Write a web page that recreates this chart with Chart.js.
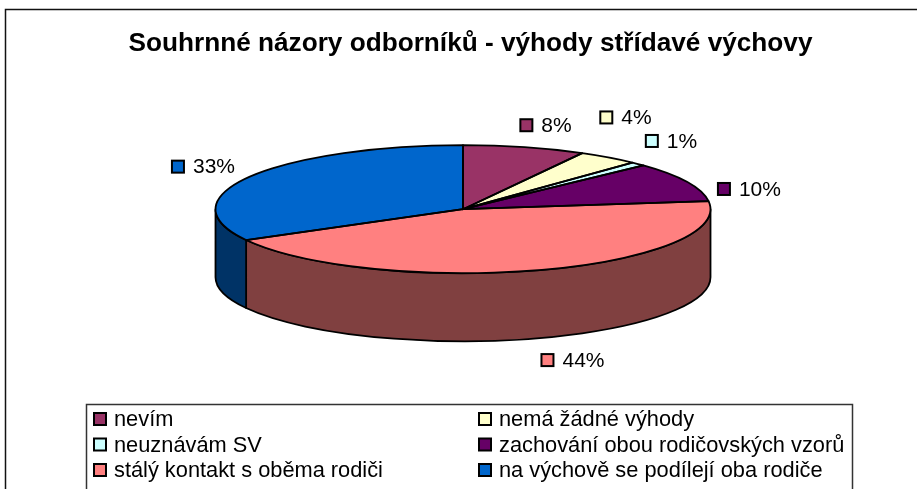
<!DOCTYPE html>
<html><head><meta charset="utf-8">
<style>html,body{margin:0;padding:0;background:#fff}canvas{display:block}</style>
<script src="https://cdn.jsdelivr.net/npm/chart.js@4"></script>
</head><body><canvas id="c" width="917" height="489"></canvas>
<script>
const categories = ["nevím","nemá žádné výhody","neuznávám SV","zachování obou rodičovských vzorů","stálý kontakt s oběma rodiči","na výchově se podílejí oba rodiče"];
const values = [8,4,1,10,44,33];
const topColors = ["#993366","#FFFFCC","#CCFFFF","#660066","#FF8080","#0066CC"];
const sideColors = ["#4D1A33","#808066","#668080","#330033","#804040","#003366"];
const titleText = "Souhrnné názory odborníků - výhody střídavé výchovy";

const FONT = '"Liberation Sans", Arial, sans-serif';
const RX = 247.5, RY = 64, DEPTH = 68;
// label offset from the slice's rim point at its mid-angle
const labelNudge = [[21.5,-22],[17.5,-40],[33.5,-23],[62.5,7],[33.5,90],[-46.5,-10]];

function ry(){return RY/RX;}
const pie3d = {
  id:'pie3d',
  afterLayout(chart){
    // the reference title sits a little right of the pie's centre
    chart.titleBlock.left += 7.5; chart.titleBlock.right += 7.5;
  },
  beforeDraw(chart){
    const c=chart.ctx;
    c.save();
    c.fillStyle='#fff';c.fillRect(0,0,917,489);
    c.strokeStyle='#111';c.lineWidth=1.5;
    c.beginPath();c.moveTo(5.5,489);c.lineTo(5.5,9.5);c.lineTo(917,9.5);c.stroke();
    c.restore();
  },
  beforeDatasetsDraw(chart){
    const c=chart.ctx, arcs=chart.getDatasetMeta(0).data;
    const o=arcs[0].getProps(['x','y']);
    // side wall: only the part of each slice facing the viewer
    arcs.forEach((a,i)=>{
      const p=a.getProps(['startAngle','endAngle']);
      const ranges=[[0,Math.PI],[2*Math.PI,3*Math.PI],[-2*Math.PI,-Math.PI]];
      ranges.forEach(([lo,hi])=>{
        const s=Math.max(p.startAngle,lo), e=Math.min(p.endAngle,hi);
        if(e<=s) return;
        c.save();
        c.beginPath();
        c.ellipse(o.x,o.y,RX,RY,0,s,e,false);
        c.ellipse(o.x,o.y+DEPTH,RX,RY,0,e,s,true);
        c.closePath();
        c.fillStyle=sideColors[i];c.fill();
        c.strokeStyle='#000';c.lineWidth=1.8;c.lineJoin='round';c.stroke();
        c.restore();
      });
    });
    c.save();
    c.translate(o.x,o.y);c.scale(1,ry());c.translate(-o.x,-o.y);
  },
  afterDatasetsDraw(chart){
    const c=chart.ctx, arcs=chart.getDatasetMeta(0).data;
    c.restore();
    const o=arcs[0].getProps(['x','y']);
    arcs.forEach(a=>{
      const p=a.getProps(['startAngle','endAngle']);
      c.save();
      c.beginPath();c.moveTo(o.x,o.y);
      c.ellipse(o.x,o.y,RX,RY,0,p.startAngle,p.endAngle,false);
      c.closePath();
      c.strokeStyle='#000';c.lineWidth=1.8;c.lineJoin='round';c.stroke();
      c.restore();
    });
    // data labels
    const total=values.reduce((s,v)=>s+v,0);
    arcs.forEach((a,i)=>{
      const p=a.getProps(['startAngle','endAngle']);
      const m=(p.startAngle+p.endAngle)/2;
      const cx=o.x+RX*Math.cos(m)+labelNudge[i][0], cy=o.y+RY*Math.sin(m)+labelNudge[i][1];
      const txt=Math.round(values[i]/total*100)+'%';
      c.save();
      c.font='21px '+FONT;c.textBaseline='middle';c.textAlign='left';
      const w=c.measureText(txt).width, tot=21+w, left=cx-tot/2;
      c.fillStyle=topColors[i];c.strokeStyle='#000';c.lineWidth=2;
      c.fillRect(left,cy-6,12,12);c.strokeRect(left,cy-6,12,12);
      c.fillStyle='#000';c.fillText(txt,left+21,cy+1);
      c.restore();
    });
    // legend
    c.save();
    c.strokeStyle='#333';c.lineWidth=1.5;
    c.beginPath();c.moveTo(86.5,489);c.lineTo(86.5,404.5);c.lineTo(852.5,404.5);c.lineTo(852.5,489);c.stroke();
    c.font='21.8px '+FONT;c.textBaseline='middle';c.textAlign='left';
    categories.forEach((t,i)=>{
      const col=i%2,row=Math.floor(i/2);
      const kx=col?479:94, y=419+row*25.5;
      c.fillStyle=topColors[i];c.strokeStyle='#000';c.lineWidth=2;
      c.fillRect(kx,y-6,12,12);c.strokeRect(kx,y-6,12,12);
      c.fillStyle='#000';c.fillText(t,kx+20,y+1);
    });
    c.restore();
  }
};

new Chart(document.getElementById('c'),{
  type:'pie',
  data:{labels:categories,datasets:[{data:values,backgroundColor:topColors,borderWidth:0,clip:false}]},
  plugins:[pie3d],
  options:{
    responsive:false,animation:false,
    radius:RX,
    rotation:0,
    layout:{padding:{left:9,right:0,top:0,bottom:138}},
    plugins:{
      legend:{display:false},tooltip:{enabled:false},
      title:{display:true,text:titleText,color:'#000',fullSize:false,
        font:{family:FONT,size:26.2,weight:'bold',lineHeight:1.2},padding:{top:28,bottom:8}}
    }
  }
});
</script></body></html>
